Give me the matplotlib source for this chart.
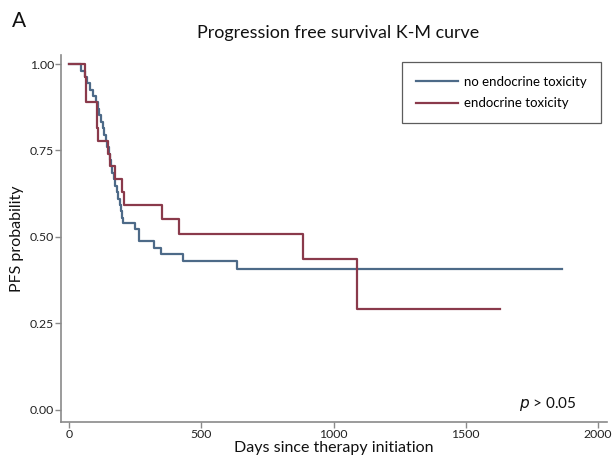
import matplotlib
matplotlib.use("Agg")
import matplotlib.pyplot as plt
import numpy as np

plt.rcParams['font.family'] = ['Lato', 'DejaVu Sans']

# Kaplan-Meier step data (days, survival probability)
no_tox_days = [0, 45, 58, 68, 78, 90, 101, 108, 114, 120, 127, 133, 139, 144, 149, 153,
               158, 163, 168, 174, 180, 186, 191, 196, 200, 203, 249, 265, 322, 347,
               429, 634, 1864]
no_tox_surv = [1.0, 0.981, 0.963, 0.944, 0.926, 0.907, 0.889, 0.870, 0.852, 0.833, 0.815,
               0.796, 0.778, 0.759, 0.741, 0.722, 0.704, 0.685, 0.667, 0.648, 0.630, 0.611,
               0.593, 0.574, 0.556, 0.541, 0.522, 0.487, 0.467, 0.450, 0.431, 0.408, 0.408]

tox_days = [0, 60, 62, 64, 104, 107, 110, 148, 155, 174, 199, 208, 352, 414, 884, 1090, 1629]
tox_surv = [1.0, 0.963, 0.926, 0.889, 0.852, 0.815, 0.778, 0.741, 0.704, 0.667, 0.630,
            0.593, 0.551, 0.509, 0.435, 0.291, 0.291]

series_labels = ["no endocrine toxicity", "endocrine toxicity"]
x_ticks = [0, 500, 1000, 1500, 2000]
y_ticks = [0.0, 0.25, 0.5, 0.75, 1.0]
y_tick_labels = ["0.00", "0.25", "0.50", "0.75", "1.00"]

blue = "#4d6a88"
red = "#8a3a4b"
axis_gray = "#8a8a8a"

fig = plt.figure(figsize=(6.13, 4.57), dpi=100)
ax = fig.add_axes([0.0995, 0.0766, 0.8905, 0.803])

ax.step(no_tox_days, no_tox_surv, where='post', color=blue, lw=1.6, label=series_labels[0])
ax.step(tox_days, tox_surv, where='post', color=red, lw=1.6, label=series_labels[1])

ax.set_xlim(-31, 2034)
ax.set_ylim(-0.035, 1.026)
ax.set_xticks(x_ticks)
ax.set_xticklabels([str(t) for t in x_ticks])
ax.set_yticks(y_ticks)
ax.set_yticklabels(y_tick_labels)

for s in ['top', 'right']:
    ax.spines[s].set_visible(False)
for s in ['left', 'bottom']:
    ax.spines[s].set_color(axis_gray)
    ax.spines[s].set_linewidth(1.2)
ax.tick_params(axis='both', colors=axis_gray, length=4, width=1.0, labelsize=8.8,
               labelcolor='#222222', pad=1.0)

ax.set_xlabel("Days since therapy initiation", fontsize=11.5, labelpad=1, color='#111111')
ax.set_ylabel("PFS probability", fontsize=11.5, labelpad=4, color='#111111')

leg = fig.legend(loc='upper left', bbox_to_anchor=(402 / 613, 1 - 62 / 457), fontsize=9.5,
                 frameon=True, fancybox=False, edgecolor='#333333', handlelength=3.2,
                 handletextpad=0.45, borderpad=1.05, labelspacing=0.72, borderaxespad=0.0)
leg.get_frame().set_linewidth(0.9)

ax.text(0.945, 0.048, r"$\it{p}$ > 0.05", transform=ax.transAxes, fontsize=11,
        ha='right', va='center', color='#111111')

fig.text(0.551, 0.928, "Progression free survival K-M curve", fontsize=12.9,
         ha='center', va='center', color='#111111')
fig.text(0.02, 0.955, "A", fontsize=15, ha='left', va='center', color='#111111')

fig.savefig("out.png", dpi=100)
